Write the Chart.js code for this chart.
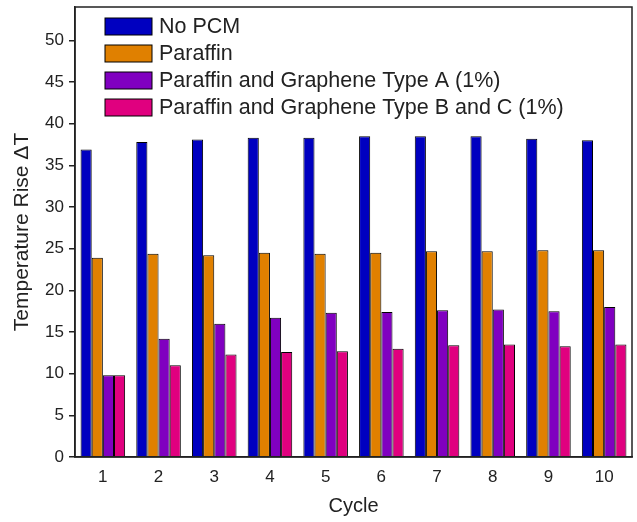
<!DOCTYPE html>
<html>
<head>
<meta charset="utf-8">
<script src="https://cdn.jsdelivr.net/npm/chart.js@4/dist/chart.umd.min.js"></script>
<style>
  html, body { margin: 0; padding: 0; background: #fff; }
  #wrap { width: 637px; height: 522px; }
</style>
</head>
<body>
<div id="wrap"><canvas id="myChart"></canvas></div>
<script>
let cycles = ['1', '2', '3', '4', '5', '6', '7', '8', '9', '10'];
let noPcm = [36.9, 37.8, 38.1, 38.3, 38.3, 38.5, 38.5, 38.5, 38.2, 38.0];
let paraffin = [23.9, 24.4, 24.2, 24.5, 24.4, 24.5, 24.7, 24.7, 24.8, 24.8];
let grapheneA = [9.8, 14.2, 16.0, 16.7, 17.3, 17.4, 17.6, 17.7, 17.5, 18.0];
let grapheneBC = [9.8, 11.0, 12.3, 12.6, 12.7, 13.0, 13.4, 13.5, 13.3, 13.5];
let seriesNames = ['No PCM', 'Paraffin', 'Paraffin and Graphene Type A (1%)', 'Paraffin and Graphene Type B and C (1%)'];
let colorHex = ['#0000C0', '#E08000', '#8000C0', '#E0007F'];

let fontName = '"Liberation Sans", Arial, sans-serif';
let textColor = '#222';

// frame round the plot + legend in the upper left corner
let framePlugin = {
    id: 'frame',
    afterDraw(chart) {
        let c = chart.ctx;
        let a = chart.chartArea;
        c.save();
        c.strokeStyle = '#222';
        c.lineWidth = 1.5;
        c.strokeRect(a.left, a.top, a.right - a.left, a.bottom - a.top);

        // legend
        c.font = '21.5px ' + fontName;
        c.textBaseline = 'middle';
        chart.data.datasets.forEach((ds, i) => {
            let y = a.top + 11 + i * 27;
            c.fillStyle = ds.backgroundColor;
            c.fillRect(a.left + 30, y, 47, 17);
            c.strokeStyle = '#000';
            c.lineWidth = 1;
            c.strokeRect(a.left + 30, y, 47, 17);
            c.fillStyle = textColor;
            c.fillText(ds.label, a.left + 84, y + 9.5);
        });
        c.restore();
    }
};

let ctx = document.getElementById('myChart').getContext('2d');
let myChart = new Chart(ctx, {
    type: 'bar',
    data: {
        labels: cycles,
        datasets: [noPcm, paraffin, grapheneA, grapheneBC].map((d, i) => ({
            label: seriesNames[i],
            data: d,
            backgroundColor: colorHex[i],
            borderColor: '#000',
            borderWidth: 1,
            borderSkipped: 'bottom',
            categoryPercentage: 0.8,
            barPercentage: 1.0
        }))
    },
    options: {
        responsive: true,
        maintainAspectRatio: false,
        animation: false,
        layout: { padding: { top: 7, right: 5, left: 0, bottom: 0 } },
        plugins: {
            legend: { display: false },
            tooltip: { enabled: false }
        },
        scales: {
            x: {
                grid: { display: false, drawTicks: false },
                border: { color: '#222', width: 1.5 },
                ticks: { color: textColor, font: { family: fontName, size: 17 }, padding: 10 },
                title: { display: true, text: 'Cycle', color: textColor, font: { family: fontName, size: 20 }, padding: { top: 14 } },
                afterFit(scale) { scale.height = 65; }
            },
            y: {
                min: 0,
                max: 54,
                grid: { drawOnChartArea: false, drawTicks: true, tickLength: 6, color: '#222', lineWidth: 1.5 },
                border: { color: '#222', width: 1.5 },
                ticks: {
                    stepSize: 2.5,
                    color: textColor,
                    font: { family: fontName, size: 17 },
                    padding: 5,
                    callback: v => (v % 5 === 0 ? v : '')
                },
                afterBuildTicks(scale) {
                    scale.ticks = scale.ticks.filter(t => t.value % 2.5 === 0);
                },
                title: { display: true, text: 'Temperature Rise \u0394T', color: textColor, font: { family: fontName, size: 21 }, padding: { top: 10, bottom: 0 } },
                afterFit(scale) {
                    scale.width = 75;
                    scale.paddingTop = 0;
                }
            }
        }
    },
    plugins: [framePlugin]
});
</script>
</body>
</html>
